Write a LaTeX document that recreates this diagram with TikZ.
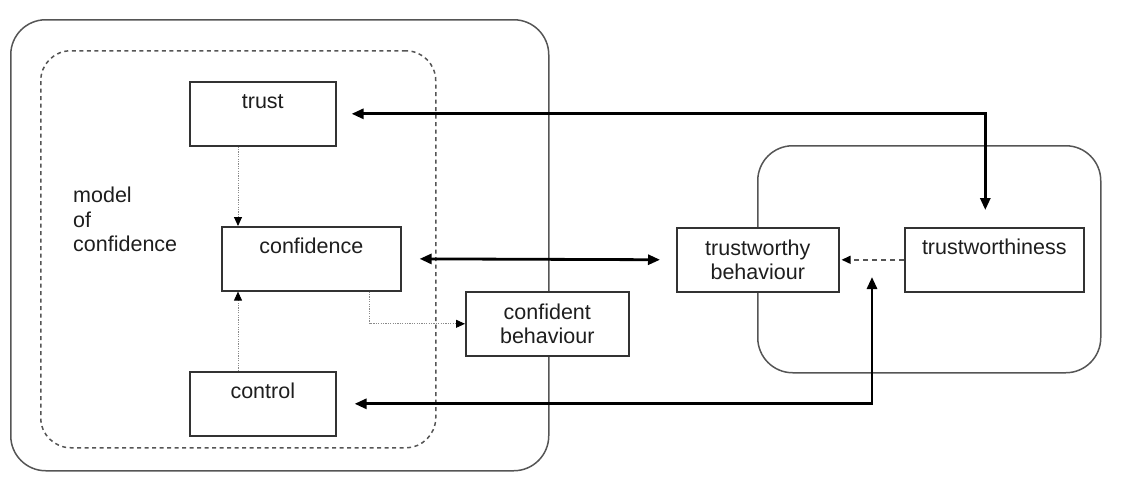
\documentclass[tikz,border=0pt]{standalone}
\usepackage{fontspec}
\setmainfont{Liberation Sans}
\usetikzlibrary{arrows.meta}
\definecolor{framec}{HTML}{555555}
\definecolor{boxc}{HTML}{333333}
\definecolor{inkc}{HTML}{1E1E1E}
\definecolor{dotc}{HTML}{8A8A8A}
\begin{document}
\begin{tikzpicture}[x=1pt,y=-1pt,
  font=\fontsize{21.5}{24.5}\selectfont, text=inkc,
  frame/.style={draw=framec, line width=1.5, rounded corners=35, inner sep=0, anchor=north west},
  dframe/.style={draw=framec, line width=1.5, rounded corners=30, dash pattern=on 4 off 3.5, inner sep=0, anchor=north west},
  topbox/.style={draw=boxc, fill=white, line width=1.6, inner xsep=0, inner ysep=0,
                 minimum height=64, text height=27, text depth=37, anchor=north west},
  twobox/.style={draw=boxc, fill=white, line width=1.6, inner sep=0, align=center,
                 minimum height=64, anchor=north west},
  bigarrow/.style={draw=black, line width=2.8, {Triangle[length=12,width=10]}-{Triangle[length=12,width=10]}},
  dotarrow/.style={draw=dotc, line width=0.9, dash pattern=on 1.2 off 1.2, -{Triangle[length=9,width=8,color=black]}},
  dasharrow/.style={draw=framec, line width=1.5, dash pattern=on 5 off 4, -{Triangle[length=9,width=8,color=black]}}
]
\useasboundingbox (0,0) rectangle (1125,488);

% containers
\node[frame, minimum width=538, minimum height=451] (leftframe) at (10,19) {};
\node[dframe, minimum width=395, minimum height=397] (model) at (40,50) {};
\node[frame, minimum width=343, minimum height=227] (rightframe) at (757,145) {};

% caption of the confidence model
\node[align=left, anchor=north west, inner sep=0] (modellabel) at (73,187) {model\\of\\confidence};

% boxes
\node[topbox, minimum width=146] (trust) at (189,81) {trust};
\node[topbox, minimum width=179] (confidence) at (221,226) {confidence};
\node[topbox, minimum width=146] (control) at (189,371) {control};
\node[twobox, minimum width=163] (cbeh) at (465,291) {confident\\behaviour};
\node[twobox, minimum width=162] (tbeh) at (676,227) {trustworthy\\behaviour};
\node[topbox, minimum width=179] (trustworthiness) at (904,227) {trustworthiness};

% thin dotted links inside the model
\coordinate (tin) at ([xshift=17]confidence.north west);
\coordinate (cin) at ([xshift=17]confidence.south west);
\draw[dotarrow] (trust.south -| tin) -- (tin);
\draw[dotarrow] (control.north -| cin) -- (cin);
\draw[dotarrow] ([xshift=-32]confidence.south east) |- (cbeh.west);

% dashed link on the right
\draw[dasharrow] (trustworthiness.west) -- ([xshift=2]tbeh.east);

% heavy two-way links
\draw[bigarrow, shorten <=15, shorten >=17] (trust.east) -| ([xshift=-9]trustworthiness.north);
\draw[bigarrow, shorten <=18, shorten >=16] (confidence.east) -- (tbeh.west);
\coordinate (feedback) at (872,277);
\draw[bigarrow, shorten <=18] (control.east) -| (feedback);
\end{tikzpicture}
\end{document}
